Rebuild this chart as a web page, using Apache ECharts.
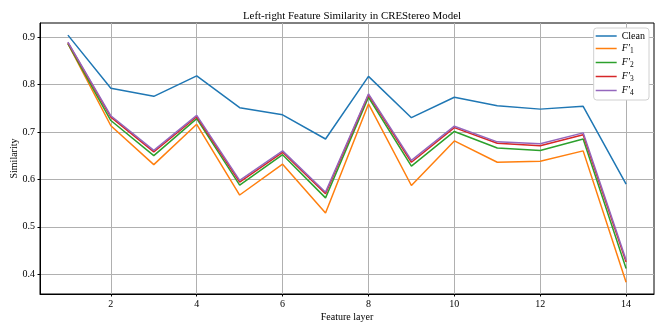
<!DOCTYPE html>
<html>
<head>
<meta charset="utf-8">
<script src="https://cdn.jsdelivr.net/npm/echarts@6/dist/echarts.min.js"></script>
<style>
  html, body { margin: 0; padding: 0; background: #fff; }
  #chart { width: 664px; height: 332px; }
</style>
</head>
<body>
<div id="chart"></div>
<script>
// feature layers 1..14
const layers = [1, 2, 3, 4, 5, 6, 7, 8, 9, 10, 11, 12, 13, 14];

const clean = [0.904, 0.792, 0.775, 0.818, 0.751, 0.736, 0.685, 0.817, 0.730, 0.773, 0.755, 0.748, 0.754, 0.590];
const f1 = [0.886, 0.713, 0.631, 0.716, 0.567, 0.632, 0.529, 0.759, 0.587, 0.681, 0.636, 0.638, 0.660, 0.383];
const f2 = [0.886, 0.724, 0.650, 0.728, 0.588, 0.652, 0.561, 0.773, 0.628, 0.701, 0.666, 0.661, 0.685, 0.412];
const f3 = [0.888, 0.731, 0.658, 0.732, 0.594, 0.657, 0.570, 0.778, 0.636, 0.709, 0.676, 0.671, 0.694, 0.426];
const f4 = [0.889, 0.734, 0.661, 0.735, 0.598, 0.660, 0.573, 0.780, 0.640, 0.712, 0.679, 0.675, 0.698, 0.430];

const xTicks = [2, 4, 6, 8, 10, 12, 14];
const yTicks = [0.4, 0.5, 0.6, 0.7, 0.8, 0.9];

const seriesNames = ['Clean', "F'1", "F'2", "F'3", "F'4"];
const seriesData = [clean, f1, f2, f3, f4];
const colors = ['#1f77b4', '#ff7f0e', '#2ca02c', '#d62728', '#9467bd'];

const font = 'Liberation Serif';

const chart = echarts.init(document.getElementById('chart'));

const option = {
  animation: false,
  color: colors,
  title: {
    text: 'Left-right Feature Similarity in CREStereo Model',
    left: 347,
    textAlign: 'center',
    top: 6,
    textStyle: { fontFamily: font, fontSize: 10.9, fontWeight: 'normal', color: '#000' }
  },
  grid: {
    left: 40, right: 10, top: 23, bottom: 38,
    outerBoundsMode: 'none',
    containLabel: false,
    show: true, borderColor: '#000', borderWidth: 1
  },
  legend: {
    orient: 'vertical',
    right: 15,
    top: 28,
    padding: [3, 4, 3, 2],
    itemGap: 1,
    itemWidth: 21,
    itemHeight: 1.5,
    icon: 'rect',
    backgroundColor: '#fff',
    borderColor: '#d0d0d0',
    borderWidth: 1,
    borderRadius: 3,
    data: seriesNames,
    formatter: function (name) {
      if (name === 'Clean') return '{n|Clean}';
      return '{it|F′}{sub|' + name.slice(2) + '}';
    },
    textStyle: {
      fontFamily: font, fontSize: 10, color: '#000',
      rich: {
        n: { fontFamily: font, fontSize: 10, color: '#000', lineHeight: 10 },
        it: { fontFamily: font, fontSize: 10, fontStyle: 'italic', color: '#000', lineHeight: 10 },
        sub: { fontFamily: font, fontSize: 7.5, color: '#000', padding: [5, 0, 0, 0], lineHeight: 10 }
      }
    }
  },
  xAxis: {
    type: 'value',
    min: 0.35,
    max: 14.65,
    name: 'Feature layer',
    nameLocation: 'middle',
    nameGap: 18,
    nameMoveOverlap: false,
    nameTextStyle: { fontFamily: font, fontSize: 10, color: '#000' },
    axisLine: { show: true, lineStyle: { color: '#000', width: 1 } },
    axisTick: { show: true, length: 2.5, customValues: xTicks, lineStyle: { color: '#000' } },
    axisLabel: { customValues: xTicks, fontFamily: font, fontSize: 10, color: '#000', margin: 5 },
    splitLine: { show: true, lineStyle: { color: '#b0b0b0', width: 1 } }
  },
  yAxis: {
    type: 'value',
    min: 0.3584,
    max: 0.9295,
    name: 'Similarity',
    nameLocation: 'middle',
    nameGap: 21,
    nameMoveOverlap: false,
    nameTextStyle: { fontFamily: font, fontSize: 10, color: '#000' },
    axisLine: { show: true, lineStyle: { color: '#000', width: 1 } },
    axisTick: { show: true, length: 2.5, customValues: yTicks, lineStyle: { color: '#000' } },
    axisLabel: {
      customValues: yTicks, fontFamily: font, fontSize: 10, color: '#000', margin: 5,
      formatter: function (v) { return v.toFixed(1); }
    },
    splitLine: { show: true, lineStyle: { color: '#b0b0b0', width: 1 } }
  },
  series: seriesNames.map(function (name, i) {
    return {
      name: name,
      type: 'line',
      symbol: 'none',
      showSymbol: false,
      lineStyle: { width: 1.5, color: colors[i] },
      itemStyle: { color: colors[i] },
      data: layers.map(function (x, j) { return [x, seriesData[i][j]]; })
    };
  })
};

chart.setOption(option);
</script>
</body>
</html>
